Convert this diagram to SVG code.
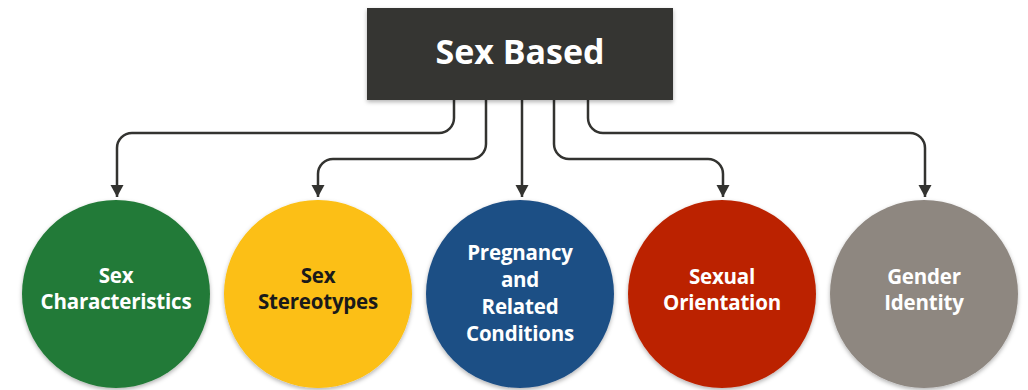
<svg xmlns="http://www.w3.org/2000/svg" width="1028" height="390" viewBox="0 0 1028 390">
<style>
.lbl{font-family:"Open Sans","Noto Sans","Liberation Sans",sans-serif;font-weight:700;font-size:20.5px;text-anchor:middle;letter-spacing:-0.2px}
.w{fill:#ffffff}
.k{fill:#1a1a1a}
.conn{fill:none;stroke:#333330;stroke-width:2.5}
</style>
<defs>
<marker id="arr" markerUnits="userSpaceOnUse" markerWidth="14" markerHeight="14" refX="12" refY="6.5" orient="auto">
<path d="M0,0 L12,6.5 L0,13 z" fill="#333330"/>
</marker>
<filter id="sh" x="-10%" y="-10%" width="120%" height="130%">
<feDropShadow dx="0" dy="2" stdDeviation="2" flood-color="#000" flood-opacity="0.3"/>
</filter>
</defs>
<rect width="1028" height="390" fill="#ffffff"/>
<g id="connectors">
<path class="conn" marker-end="url(#arr)" d="M454 100 V118 A15 15 0 0 1 439 133 H132 A15 15 0 0 0 117 148 V197"/>
<path class="conn" marker-end="url(#arr)" d="M486 100 V144 A15 15 0 0 1 471 159 H333 A15 15 0 0 0 318 174 V197"/>
<path class="conn" marker-end="url(#arr)" d="M522 100 V197"/>
<path class="conn" marker-end="url(#arr)" d="M554 100 V144 A15 15 0 0 0 569 159 H708 A15 15 0 0 1 723 174 V197"/>
<path class="conn" marker-end="url(#arr)" d="M588 100 V118 A15 15 0 0 0 603 133 H910 A15 15 0 0 1 925 148 V197"/>
</g>
<g id="root">
<rect x="367" y="8" width="306" height="92" fill="#363632" filter="url(#sh)"/>
<text x="520" y="64" style="font-family:'Open Sans','Noto Sans','Liberation Sans',sans-serif;font-weight:700;font-size:34px;text-anchor:middle;fill:#ffffff">Sex Based</text>
</g>
<g id="sex-characteristics">
<circle cx="116" cy="294" r="94" fill="#237a37" filter="url(#sh)"/>
<text class="lbl w" x="116" y="283">Sex</text>
<text class="lbl w" x="116" y="309">Characteristics</text>
</g>
<g id="sex-stereotypes">
<circle cx="318" cy="294" r="94" fill="#fcbf12" filter="url(#sh)"/>
<text class="lbl k" x="318" y="283">Sex</text>
<text class="lbl k" x="318" y="309">Stereotypes</text>
</g>
<g id="pregnancy">
<circle cx="520" cy="294" r="94" fill="#1f4f85" filter="url(#sh)"/>
<text class="lbl w" x="520" y="260">Pregnancy</text>
<text class="lbl w" x="520" y="287">and</text>
<text class="lbl w" x="520" y="314">Related</text>
<text class="lbl w" x="520" y="341">Conditions</text>
</g>
<g id="sexual-orientation">
<circle cx="722" cy="294" r="94" fill="#bb2306" filter="url(#sh)"/>
<text class="lbl w" x="722" y="284">Sexual</text>
<text class="lbl w" x="722" y="310">Orientation</text>
</g>
<g id="gender-identity">
<circle cx="924" cy="294" r="94" fill="#8e8780" filter="url(#sh)"/>
<text class="lbl w" x="924" y="284">Gender</text>
<text class="lbl w" x="924" y="310">Identity</text>
</g>
</svg>
